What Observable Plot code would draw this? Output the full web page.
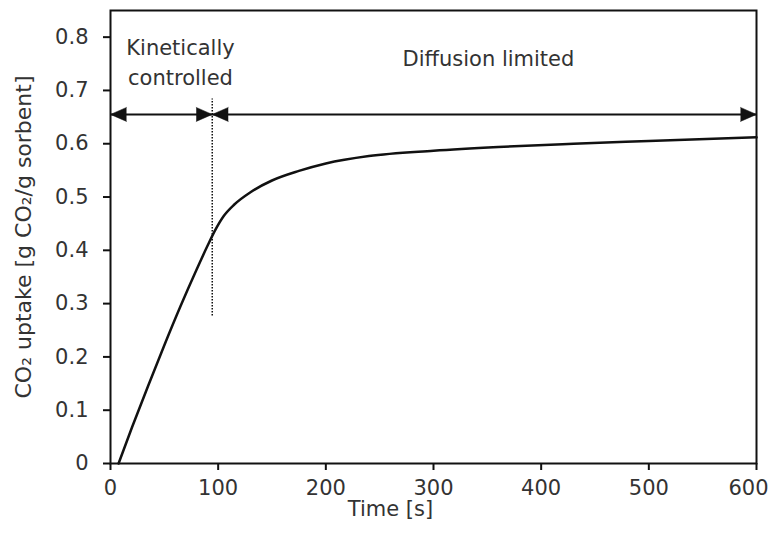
<!DOCTYPE html>
<html>
<head>
<meta charset="utf-8">
<script src="https://cdn.jsdelivr.net/npm/d3@7"></script>
<script src="https://cdn.jsdelivr.net/npm/@observablehq/plot@0.6"></script>
<style>
  html, body { margin: 0; padding: 0; background: #fff; }
  #chart svg { display: block; }
</style>
</head>
<body>
<div id="chart"></div>
<script>
// CO2 uptake curve of the sorbent over time
const timeS = [7.5, 20, 35, 50, 65, 80, 90, 97, 105, 115, 130, 150, 175, 200, 240, 300, 360, 430, 500, 600];
const uptake = [0, 0.068, 0.146, 0.222, 0.295, 0.364, 0.408, 0.437, 0.464, 0.486, 0.509, 0.531, 0.549, 0.563, 0.577, 0.587, 0.594, 0.600, 0.605, 0.612];

// Axis ticks
const xTicks = [0, 100, 200, 300, 400, 500, 600];
const yTicks = [0, 0.1, 0.2, 0.3, 0.4, 0.5, 0.6, 0.7, 0.8];

// Regime annotation: boundary time, arrow level and dotted marker extent
const regimeBoundary = 94.5;
const arrowLevel = 0.655;
const markerRange = [0.277, 0.684];
const regimes = [
  {label: "Kinetically\ncontrolled", from: 0, to: regimeBoundary, tx: 65, ty: 0.756},
  {label: "Diffusion limited", from: regimeBoundary, to: 600, tx: 351, ty: 0.764}
];

const curve = timeS.map((t, i) => ({t, u: uptake[i]}));
const heads = regimes.flatMap(r => [
  {t: r.from, dir: -90},
  {t: r.to, dir: 90}
]);

const ink = "#111";
const textInk = "#333";
const font = "DejaVu Sans, sans-serif";
const lastTick = xTicks[xTicks.length - 1];

const chart = Plot.plot({
  width: 773,
  height: 534,
  marginLeft: 110,
  marginRight: 17,
  marginTop: 10,
  marginBottom: 71,
  style: {fontFamily: font, fontSize: "21px", color: textInk, background: "#fff"},
  x: {domain: [0, 600]},
  y: {domain: [0, 0.85]},
  marks: [
    Plot.frame({stroke: ink, strokeWidth: 2}),
    Plot.axisX({
      ticks: xTicks, tickFormat: d => (d === lastTick ? "" : String(d)),
      tickSize: 7, tickPadding: 10,
      strokeWidth: 2, stroke: ink, fill: textInk, label: null, fontSize: 21
    }),
    // the last label is nudged inward so it stays on the page
    Plot.axisX({
      ticks: [lastTick], tickFormat: d => String(d), tickSize: 7, tickPadding: 10,
      dx: -8, strokeOpacity: 0, fill: textInk, label: null, fontSize: 21
    }),
    Plot.axisY({
      ticks: yTicks, tickFormat: d => String(d), tickSize: 7, tickPadding: 15,
      strokeWidth: 2, stroke: ink, fill: textInk, label: null, fontSize: 21
    }),
    // axis titles
    Plot.text(["Time [s]"], {
      frameAnchor: "bottom", dx: -43, dy: 46, text: d => d,
      fill: textInk, fontSize: 21, lineAnchor: "middle", textAnchor: "middle"
    }),
    Plot.text(["CO₂ uptake [g CO₂/g sorbent]"], {
      frameAnchor: "left", dx: -87, rotate: -90, text: d => d,
      fill: textInk, fontSize: 22, lineAnchor: "middle", textAnchor: "middle"
    }),
    // regime boundary marker
    Plot.ruleX([regimeBoundary], {
      y1: markerRange[0], y2: markerRange[1],
      stroke: ink, strokeWidth: 1.5, strokeDasharray: "1.5,1.5"
    }),
    // double-headed regime arrows
    Plot.link(regimes, {
      x1: "from", x2: "to", y1: arrowLevel, y2: arrowLevel,
      stroke: ink, strokeWidth: 2
    }),
    Plot.vector(heads, {
      x: "t", y: arrowLevel, rotate: "dir", length: 16, r: 7,
      shape: "spike", anchor: "end", fill: ink, stroke: ink, strokeWidth: 0.5
    }),
    Plot.text(regimes, {
      x: "tx", y: "ty", text: "label", lineHeight: 1.43,
      fill: textInk, fontSize: 21, lineAnchor: "middle"
    }),
    // uptake curve
    Plot.line(curve, {
      x: "t", y: "u", curve: "monotone-x",
      stroke: ink, strokeWidth: 2.5
    })
  ]
});

document.getElementById("chart").append(chart);
</script>
</body>
</html>
